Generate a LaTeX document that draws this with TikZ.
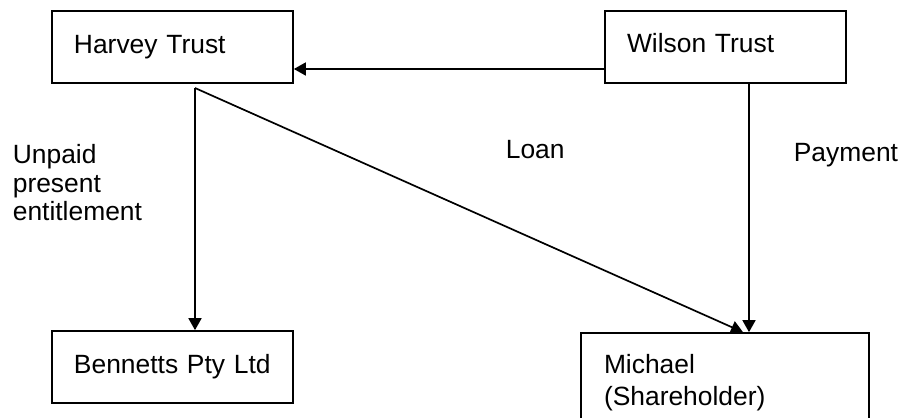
\documentclass[tikz,border=0pt]{standalone}
\usepackage{fontspec}
\setmainfont{Liberation Sans}
\usetikzlibrary{arrows.meta}
\tikzset{>={Triangle[length=6pt,width=6.5pt]}}
\tikzset{entity/.style={draw, minimum width=120.5pt, minimum height=36pt, text width=98.5pt, inner xsep=11pt, align=left, font=\fontsize{13.2pt}{14.25pt}\selectfont}}
\tikzset{flowlabel/.style={inner sep=0pt, align=left, font=\fontsize{13.2pt}{14.25pt}\selectfont}}

\begin{document}
\begin{tikzpicture}[x=0.5pt, y=-0.5pt, line width=0.85pt]
            \useasboundingbox (0,0) rectangle (901,418);
            \node[entity] (harvey) at (172.5,47) {Harvey Trust};
            \node[entity, text depth=4pt] (wilson) at (725.5,47) {Wilson Trust};
            \node[entity] (bennetts) at (172.5,367) {Bennetts Pty Ltd};
            \node[entity, minimum width=144pt, text width=121pt, minimum height=49.5pt] (michael) at (725,382.5) {Michael\\[2pt](Shareholder)};
            \coordinate (split) at (195,88);
            \draw[->] ([yshift=-11pt]wilson.west) -- ([yshift=-11pt]harvey.east);
            \draw[->] (split) -- (split |- bennetts.north);
            \draw[->] (split) -- ([xshift=9pt]michael.north);
            \draw[->] ([xshift=11.75pt]wilson.south) coordinate (drop) -- (drop |- michael.north);
            \node[flowlabel, anchor=west] (upe) at (12,183) {Unpaid\\present\\entitlement};
            \node[flowlabel, anchor=west] (loan) at (505,150) {Loan};
            \node[flowlabel, anchor=west] (payment) at (793,155) {Payment};
        \end{tikzpicture}
\end{document}
